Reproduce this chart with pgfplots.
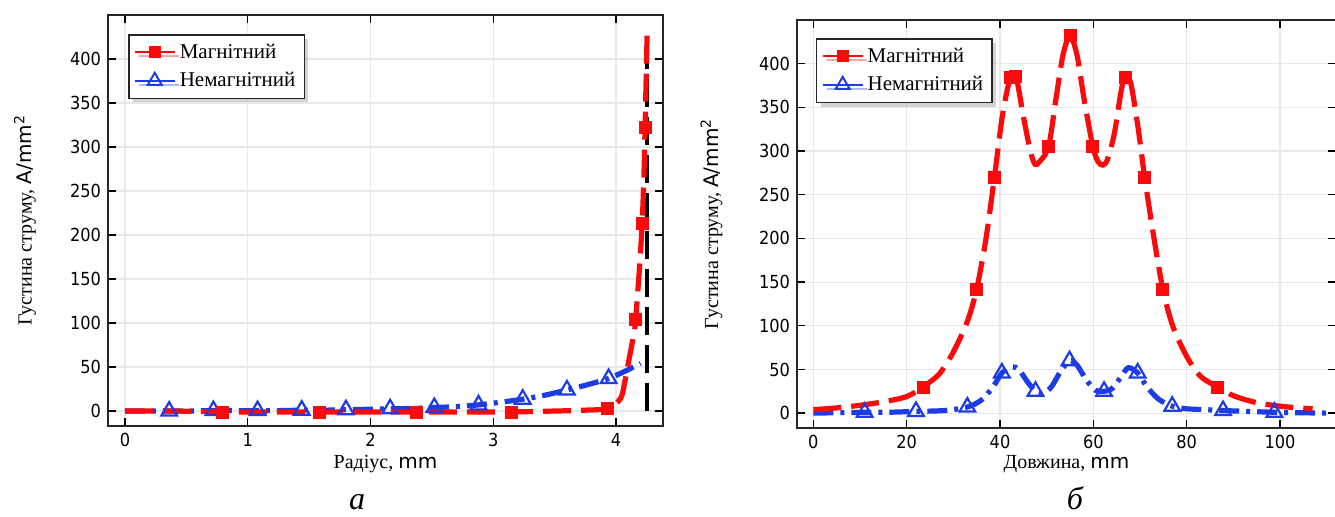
\documentclass[border=0pt]{standalone}
\usepackage{fontspec}
\setmainfont{Liberation Serif}
\newfontfamily\dv{DejaVu Sans}
\newfontfamily\dvc{DejaVu Sans Condensed}
\usepackage{pgfplots}
\pgfplotsset{compat=1.18}
\usetikzlibrary{shadows}

\definecolor{magred}{RGB}{250,10,10}
\definecolor{nmblue}{RGB}{30,60,230}

\pgfplotsset{
  panel/.style={
    scale only axis,
    axis line style={line width=0.8pt, black!85},
    tick align=inside,
    major tick length=4pt,
    tick style={black, line width=0.7pt},
    grid=major,
    major grid style={black!9, line width=0.6pt},
    ymin=-17, ymax=450,
    ytick={0,50,...,400},
    ticklabel style={font=\dvc\fontsize{9}{10}\selectfont},
    /pgf/number format/assume math mode=true,
    label style={font=\fontsize{10}{12}\selectfont},
    legend cell align=left,
    legend image code/.code={%
      \draw[mark repeat=2,mark phase=2,##1] plot coordinates {(0pt,0pt)(10pt,0pt)(20pt,0pt)};},
    legend style={anchor=north west, draw=black!85, line width=0.8pt, fill=white,
      font=\fontsize{10.5}{12}\selectfont, inner sep=2.5pt, row sep=1.5pt,
      drop shadow={shadow xshift=2pt, shadow yshift=-2pt, opacity=0.35}},
  },
  magn/.style={magred, line width=2.6pt, dash pattern=on 14pt off 5pt, smooth,
    mark=square*, mark size=3pt, mark options={solid, fill=magred, line width=0.4pt}},
  nemagn/.style={nmblue, line width=2.6pt, dash pattern=on 10pt off 3.5pt on 2pt off 3.5pt, smooth,
    mark=triangle, mark size=4.5pt, mark options={solid, line width=1.1pt, fill=none}},
}

\begin{document}
\begin{tikzpicture}

% ---------------- (а) current density along the radius ----------------
\begin{axis}[panel,
  at={(54pt,45pt)}, anchor=south west,
  width=277.5pt, height=205.5pt,
  xmin=-0.1385, xmax=4.383,
  xtick={0,1,2,3,4},
  xlabel={Радіус, {\dv mm}},
  ylabel={Густина струму, {\dv A/mm\textsuperscript{2}}},
  every axis x label/.style={at={(axis description cs:0.5,-0.092)}, anchor=center},
  every axis y label/.style={at={(axis description cs:-0.1495,0.5)}, anchor=center, rotate=90},
  legend style={at={(0.036,0.954)}},
]
\addlegendimage{magred, line width=1pt, mark=square*, mark size=2.5pt, mark options={fill=magred}}
\addlegendentry{Магнітний}
\addlegendimage{nmblue, line width=1pt, mark=triangle, mark size=4pt, mark options={line width=1pt}}
\addlegendentry{Немагнітний}

% surface boundary
\addplot[black, line width=2pt, dash pattern=on 14pt off 5pt, forget plot]
  coordinates {(4.25,0) (4.25,415)};

\addplot[nemagn, forget plot, mark indices={2,4,6,8,10,12,14,16,18,20,22}] coordinates {
  (0,0) (0.36,0) (0.54,0) (0.72,0.5) (0.9,0.5) (1.08,0.5) (1.26,0.5) (1.44,1)
  (1.62,1) (1.8,1.5) (1.98,2) (2.16,2.5) (2.34,3) (2.52,4) (2.7,5) (2.88,7)
  (3.06,10) (3.24,13.5) (3.42,18) (3.6,24) (3.77,30) (3.94,37) (4.07,45) (4.2,54)
};

\addplot[magn, forget plot, mark indices={3,5,7,9,12,17,19,21}] coordinates {
  (0,0) (0.4,0) (0.79,-1) (1.2,-1) (1.58,-1) (2.0,-1) (2.37,-1) (2.8,-1)
  (3.15,-1) (3.5,0) (3.75,1) (3.93,3) (4.036,14) (4.07,32) (4.104,57) (4.146,88)
  (4.16,104) (4.19,160) (4.213,213) (4.228,270) (4.237,322) (4.246,380) (4.254,432)
};
\end{axis}

% ---------------- (б) current density along the length ----------------
\begin{axis}[panel,
  at={(398.5pt,44pt)}, anchor=south west,
  width=269.5pt, height=204pt,
  xmin=-3.5, xmax=112,
  xtick={0,20,...,100},
  xlabel={Довжина, {\dv mm}},
  ylabel={Густина струму, {\dv A/mm\textsuperscript{2}}},
  every axis x label/.style={at={(axis description cs:0.5,-0.088)}, anchor=center},
  every axis y label/.style={at={(axis description cs:-0.1586,0.5)}, anchor=center, rotate=90},
  legend style={at={(0.035,0.956)}},
]
\addlegendimage{magred, line width=1pt, mark=square*, mark size=2.5pt, mark options={fill=magred}}
\addlegendentry{Магнітний}
\addlegendimage{nmblue, line width=1pt, mark=triangle, mark size=4pt, mark options={line width=1pt}}
\addlegendentry{Немагнітний}

\addplot[nemagn, forget plot, mark indices={3,5,7,10,14,18,22,26,29,32,34}] coordinates {
  (0,0) (5,0.5) (11,1) (16,1) (22,2) (28,3) (33,7) (36,15) (38.5,30) (40.4,46)
  (42.5,53) (44,50) (46,35) (47.6,25) (49,22) (51,30) (53,48) (54.9,60) (56.5,55)
  (58.5,38) (60.5,26) (62.3,25) (64,28) (66,42) (67.5,52) (69.5,46) (71.5,30)
  (74,16) (76.9,8) (80,5) (84,4) (87.8,3) (93,2) (98.8,1) (104,0.5) (110,0)
};

\addplot[magn, forget plot, mark indices={6,10,12,14,15,20,23,26,32,35,37,41}] coordinates {
  (0,4) (5,6) (10,9) (15,13) (20,19) (23.5,30) (27,45) (30,70) (33,105) (35,142)
  (37,200) (38.8,270) (40.5,340) (42.2,384) (43.4,386) (45,340) (46.5,300) (47.5,285)
  (48.5,288) (50.4,305) (52,360) (53.5,410) (55,432) (56.5,410) (58,360) (59.9,305)
  (61,288) (62,284) (63,290) (64.5,320) (66,370) (66.9,384) (68,378) (69.5,330)
  (71,270) (73,200) (74.9,142) (77,100) (80,65) (83,42) (86.6,30) (90,20) (95,12)
  (100,8) (104,6) (107,5)
};
\end{axis}

% panel captions
\node[anchor=base, font=\itshape\fontsize{16}{19}\selectfont] at (178.5pt,3.5pt) {а};
\node[anchor=base, font=\itshape\fontsize{16}{19}\selectfont] at (537.5pt,3.5pt) {б};

\pgfresetboundingbox
\path[use as bounding box] (0,0) rectangle (667.5pt,258pt);
\end{tikzpicture}
\end{document}
